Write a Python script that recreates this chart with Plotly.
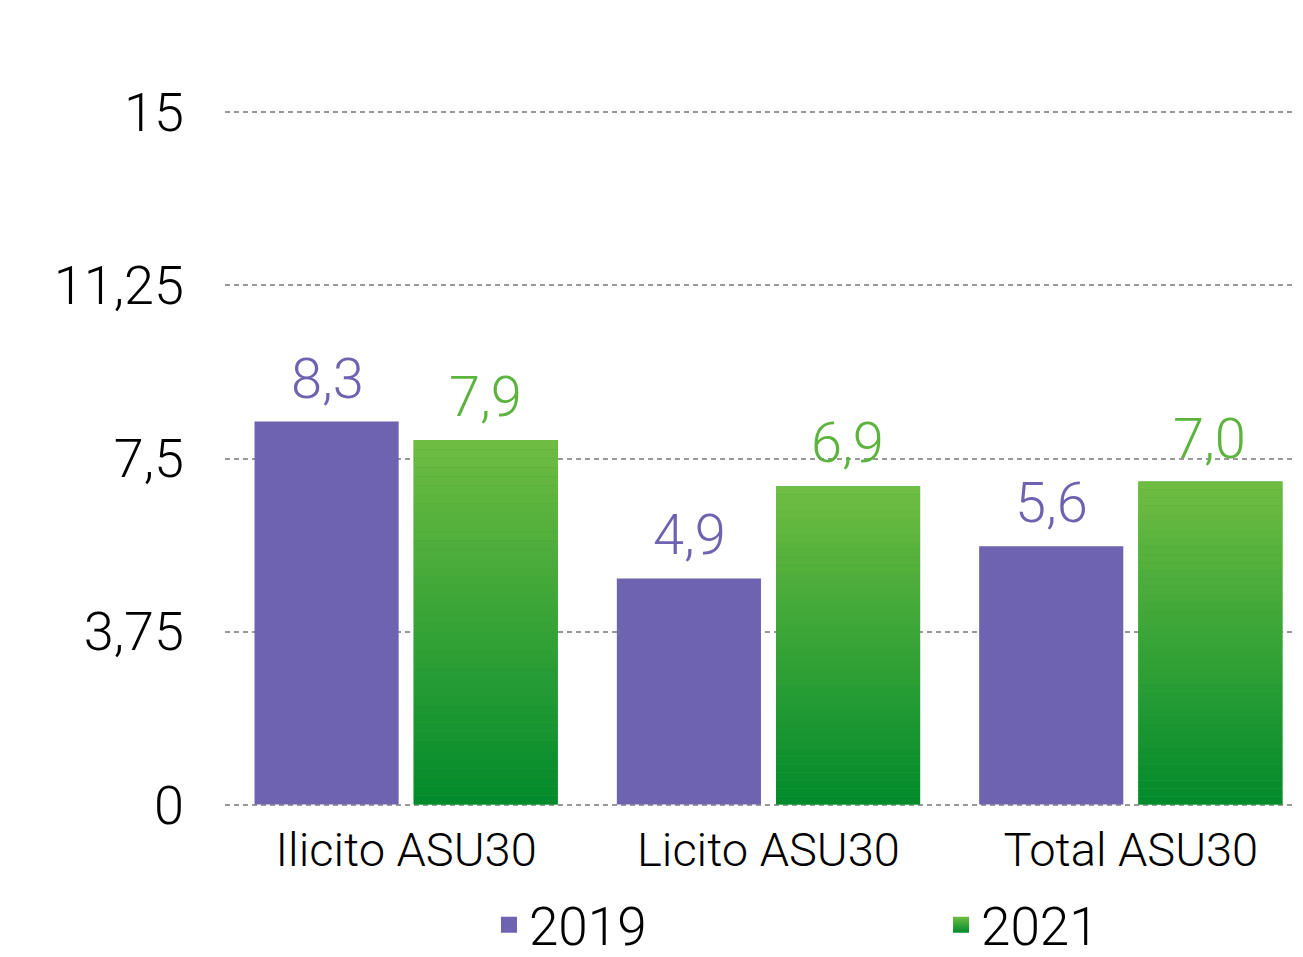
import plotly.graph_objects as go

categories = ["Ilicito ASU30", "Licito ASU30", "Total ASU30"]
values_2019 = [8.3, 4.9, 5.6]
values_2021 = [7.9, 6.9, 7.0]
series_names = ["2019", "2021"]
tick_vals = [0, 3.75, 7.5, 11.25, 15]
tick_text = ["0", "3,75", "7,5", "11,25", "15"]

PURPLE = "#6e63b0"
GREEN_TOP = (111, 189, 65)
GREEN_BOTTOM = (0, 138, 44)
GREEN_LABEL = "#5cb43f"
FONT = "Roboto"

def mix(t):
    c = [round(GREEN_BOTTOM[k] + (GREEN_TOP[k] - GREEN_BOTTOM[k]) * t) for k in range(3)]
    return "rgb(%d,%d,%d)" % tuple(c)

fig = go.Figure()

fig.add_trace(go.Bar(
    x=categories, y=values_2019, name=series_names[0], offsetgroup="a",
    marker=dict(color=PURPLE, line=dict(width=0)), showlegend=False,
))
fig.add_trace(go.Bar(
    x=categories, y=values_2021, name=series_names[1], offsetgroup="b",
    marker=dict(color=mix(0.5), line=dict(width=0)), showlegend=False,
))

# vertical gradient for 2021 bars, built from stacked slices of each bar
N = 40
for i in range(N):
    t = (i + 0.5) / N
    fig.add_trace(go.Bar(
        x=categories,
        y=[v / N for v in values_2021],
        base=[v * i / N for v in values_2021],
        offsetgroup="b",
        marker=dict(color=mix(t), line=dict(width=0)),
        showlegend=False, hoverinfo="skip",
    ))

# legend entries (two legends so that they can be spaced like the reference)
fig.add_trace(go.Scatter(
    x=[None], y=[None], mode="markers", name=series_names[0], legend="legend",
    marker=dict(symbol="square", size=16, color=PURPLE),
))
fig.add_trace(go.Scatter(
    x=[None], y=[None], mode="markers", name=series_names[1], legend="legend2",
    marker=dict(symbol="square", size=16, color=mix(1.0),
                gradient=dict(type="vertical", color=mix(0.0))),
))

LABEL_SIZE = 56
for cat, v in zip(categories, values_2019):
    fig.add_annotation(x=cat, y=v, xshift=-79, yshift=8, yanchor="bottom",
                       text=("%.1f" % v).replace(".", ","), showarrow=False,
                       font=dict(family=FONT, size=LABEL_SIZE, color=PURPLE, weight=300))
for cat, v in zip(categories, values_2021):
    fig.add_annotation(x=cat, y=v, xshift=79, yshift=8, yanchor="bottom",
                       text=("%.1f" % v).replace(".", ","), showarrow=False,
                       font=dict(family=FONT, size=LABEL_SIZE, color=GREEN_LABEL, weight=300))

legend_common = dict(orientation="h", xref="container", yref="container",
                     xanchor="left", yanchor="middle", y=0.034,
                     font=dict(family=FONT, size=53, color="black", weight=300),
                     bgcolor="rgba(0,0,0,0)", borderwidth=0)

fig.update_layout(
    width=1295, height=949,
    margin=dict(l=217, r=3, t=103, b=151, autoexpand=False),
    paper_bgcolor="white", plot_bgcolor="white",
    barmode="group", bargap=0.1215, bargroupgap=0.0943,
    separators=",.",
    font=dict(family=FONT, size=50, color="black", weight=300),
    showlegend=True,
    legend=dict(x=0.3714, **legend_common),
    legend2=dict(x=0.7205, **legend_common),
    xaxis=dict(categoryorder="array", categoryarray=categories,
               range=[-0.5, 2.467], showgrid=False, zeroline=False, showline=False,
               ticks="", ticklabelstandoff=12,
               tickfont=dict(family=FONT, size=47, color="black", weight=300)),
    yaxis=dict(range=[-0.03, 15.03], tickvals=tick_vals, ticktext=tick_text,
               showgrid=True, gridcolor="#999999", gridwidth=2, griddash="5px,4px",
               zeroline=False, showline=False, ticks="", ticklabelstandoff=40,
               tickfont=dict(family=FONT, size=54, color="black", weight=300)),
)

fig.write_html("out.html")
